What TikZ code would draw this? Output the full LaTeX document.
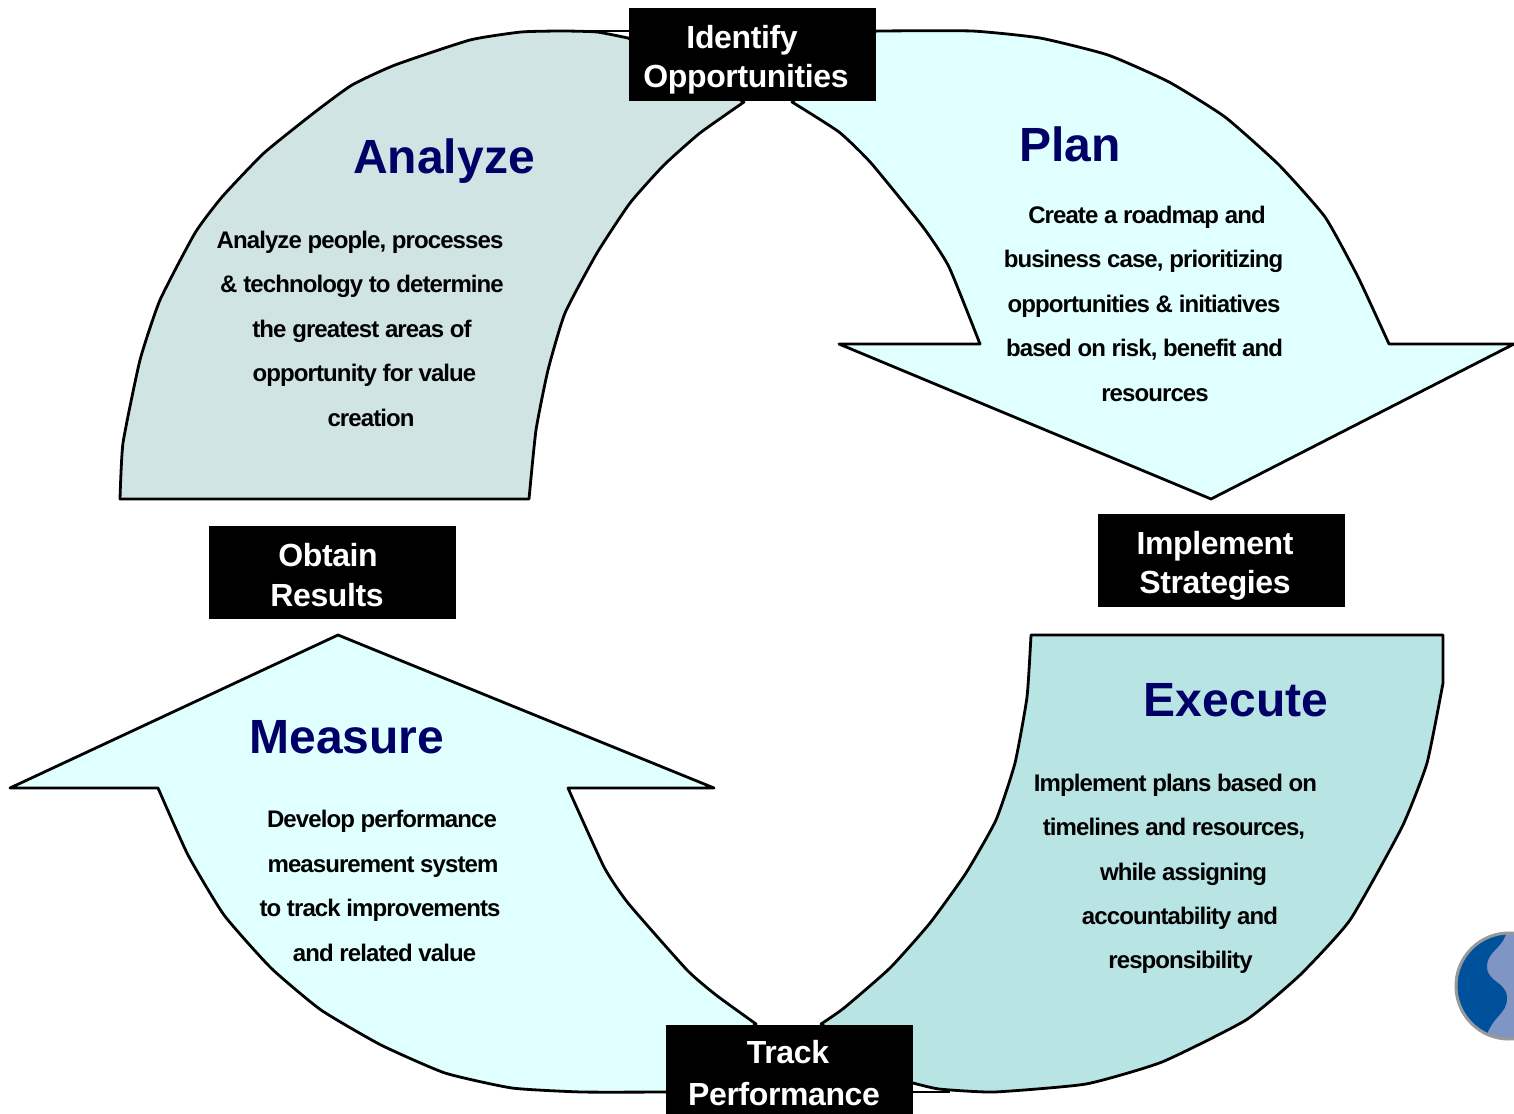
\documentclass[tikz,border=0pt]{standalone}
\usepackage{fontspec}
\setmainfont{Liberation Sans}
\newfontfamily\bodyfont[LetterSpace=-3.8]{Liberation Sans}
\newfontfamily\stagefont[LetterSpace=-1.2]{Liberation Sans}
\definecolor{analyzefill}{HTML}{D0E4E4}
\definecolor{planfill}{HTML}{E0FFFF}
\definecolor{executefill}{HTML}{B8E4E4}
\definecolor{headblue}{HTML}{000066}
\definecolor{logodark}{HTML}{00519B}
\definecolor{logolight}{HTML}{7F95C4}
\tikzset{
	arrowshape/.style={draw=black, line width=2.8pt, line join=round},
	curved/.style={smooth, tension=0.3},
	stagebox/.style={fill=black, minimum width=247pt, minimum height=93pt, inner sep=0pt},
	stagetext/.style={anchor=base, text=white, font=\fontsize{32}{32}\stagefont\bfseries, inner sep=0pt},
	headtext/.style={anchor=base, text=headblue, font=\fontsize{48}{48}\selectfont\bfseries, inner sep=0pt},
	bodytext/.style={anchor=base, text=black, font=\fontsize{24}{24}\bodyfont\bfseries, inner sep=0pt},
}
\begin{document}
\begin{tikzpicture}[x=1pt, y=-1pt]
	\useasboundingbox (0,0) rectangle (1514,1113);
	% the logo, cut off by the right edge
	\begin{scope}
		\clip (0,0) rectangle (1514,1113);
		\fill[logolight] (1509,986) circle (54);
		\begin{scope}
			\clip (1509,986) circle (54);
			\fill[logodark] (1507,930) .. controls (1503,950) and (1487,950) .. (1487,967) .. controls (1487,982) and (1507,982) .. (1507,998) .. controls (1507,1015) and (1492,1015) .. (1485,1040) -- (1440,1045) -- (1440,925) -- cycle;
		\end{scope}
		\draw[gray!80, line width=3pt] (1509,986) circle (53);
	\end{scope}
	% the four arrows
	\draw[arrowshape, fill=analyzefill] (120,499) -- plot[curved] coordinates {(120,499) (123,443) (140,360) (160,300) (195,233) (222,197) (264,153) (315,112) (352,85) (395,65) (470,40) (521,32) (563,31) (597,32) (628,38)} -- (744,102) -- plot[curved] coordinates {(744,102) (700,133) (664,165) (630,203) (597,253) (565,313) (548,370) (536,430) (529,499)} -- cycle;
	\draw[line width=1.5pt] (563,31) -- (630,31);
	\draw[arrowshape, fill=planfill] (876,31) -- plot[curved] coordinates {(876,31) (972,31) (1040,38) (1108,55) (1169,82) (1225,117) (1279,165) (1325,217) (1358,277) (1389,344)} -- (1514,344) -- (1211,499) -- (839,344) -- (980,344) -- plot[curved] coordinates {(980,344) (949,267) (923,227) (871,163) (839,132) (792,102)} -- cycle;
	\draw[arrowshape, fill=planfill] (338,635) -- (714,788) -- (568,788) -- plot[curved] coordinates {(568,788) (604,867) (628,903) (687,970) (716,995) (756,1024)} -- (667,1092) -- plot[curved] coordinates {(667,1092) (582,1092) (512,1088) (445,1073) (381,1045) (321,1010) (271,968) (224,915) (188,855) (158,788)} -- (10,788) -- cycle;
	\draw[arrowshape, fill=executefill] (1031,635) -- (1443,635) -- plot[curved] coordinates {(1443,683) (1427,763) (1402,827) (1350,920) (1300,975) (1246,1020) (1162,1062) (1086,1084) (994,1092) (939,1089) (913,1083)} -- (821,1024) -- plot[curved] coordinates {(821,1024) (844,1008) (890,968) (930,923) (966,873) (996,820) (1015,763) (1027,697) (1031,635)} -- cycle;
	\draw[line width=1.5pt] (905,1092) -- (950,1092);
	% black stage boxes
	\node[stagebox] (identify) at (752,54.5) {};
	\node[stagebox] (implement) at (1221,560.5) {};
	\node[stagebox] (track) at (789,1071.5) {};
	\node[stagebox] (obtain) at (332,572.5) {};
	\foreach \n/\x/\y/\t in {identify1/742/49/Identify, identify2/746/88/Opportunities, implement1/1215/554/Implement, implement2/1215/593/Strategies, track1/788/1063/Track, track2/784/1105/Performance, obtain1/328/566/Obtain, obtain2/327/606/Results}{
		\node[stagetext] (\n) at (\x,\y) {\t};
	}
	% headings
	\node[headtext] (analyze) at (444,173) {Analyze};
	\node[headtext] (plan) at (1070,161) {Plan};
	\node[headtext] (execute) at (1236,716) {Execute};
	\node[headtext] (measure) at (347,753) {Measure};
	% body lines
	\foreach \n/\x/\y/\t in {a1/360/248/{Analyze people, processes}, a2/362/292.5/{\& technology to determine}, a3/362/337/{the greatest areas of}, a4/364.5/381/{opportunity for value}, a5/371/426/{creation}}{
		\node[bodytext] (\n) at (\x,\y) {\t};
	}
	\foreach \n/\x/\y/\t in {p1/1147/223/{Create a roadmap and}, p2/1143.5/267.5/{business case, prioritizing}, p3/1144/312/{opportunities \& initiatives}, p4/1144.5/356/{based on risk, benefit and}, p5/1155/401/{resources}}{
		\node[bodytext] (\n) at (\x,\y) {\t};
	}
	\foreach \n/\x/\y/\t in {e1/1175.5/791/{Implement plans based on}, e2/1174/835/{timelines and resources,}, e3/1183.5/880/{while assigning}, e4/1180/924/{accountability and}, e5/1180.5/968/{responsibility}}{
		\node[bodytext] (\n) at (\x,\y) {\t};
	}
	\foreach \n/\x/\y/\t in {m1/382/827/{Develop performance}, m2/383/872/{measurement system}, m3/380/916/{to track improvements}, m4/384.5/961/{and related value}}{
		\node[bodytext] (\n) at (\x,\y) {\t};
	}
\end{tikzpicture}
\end{document}
